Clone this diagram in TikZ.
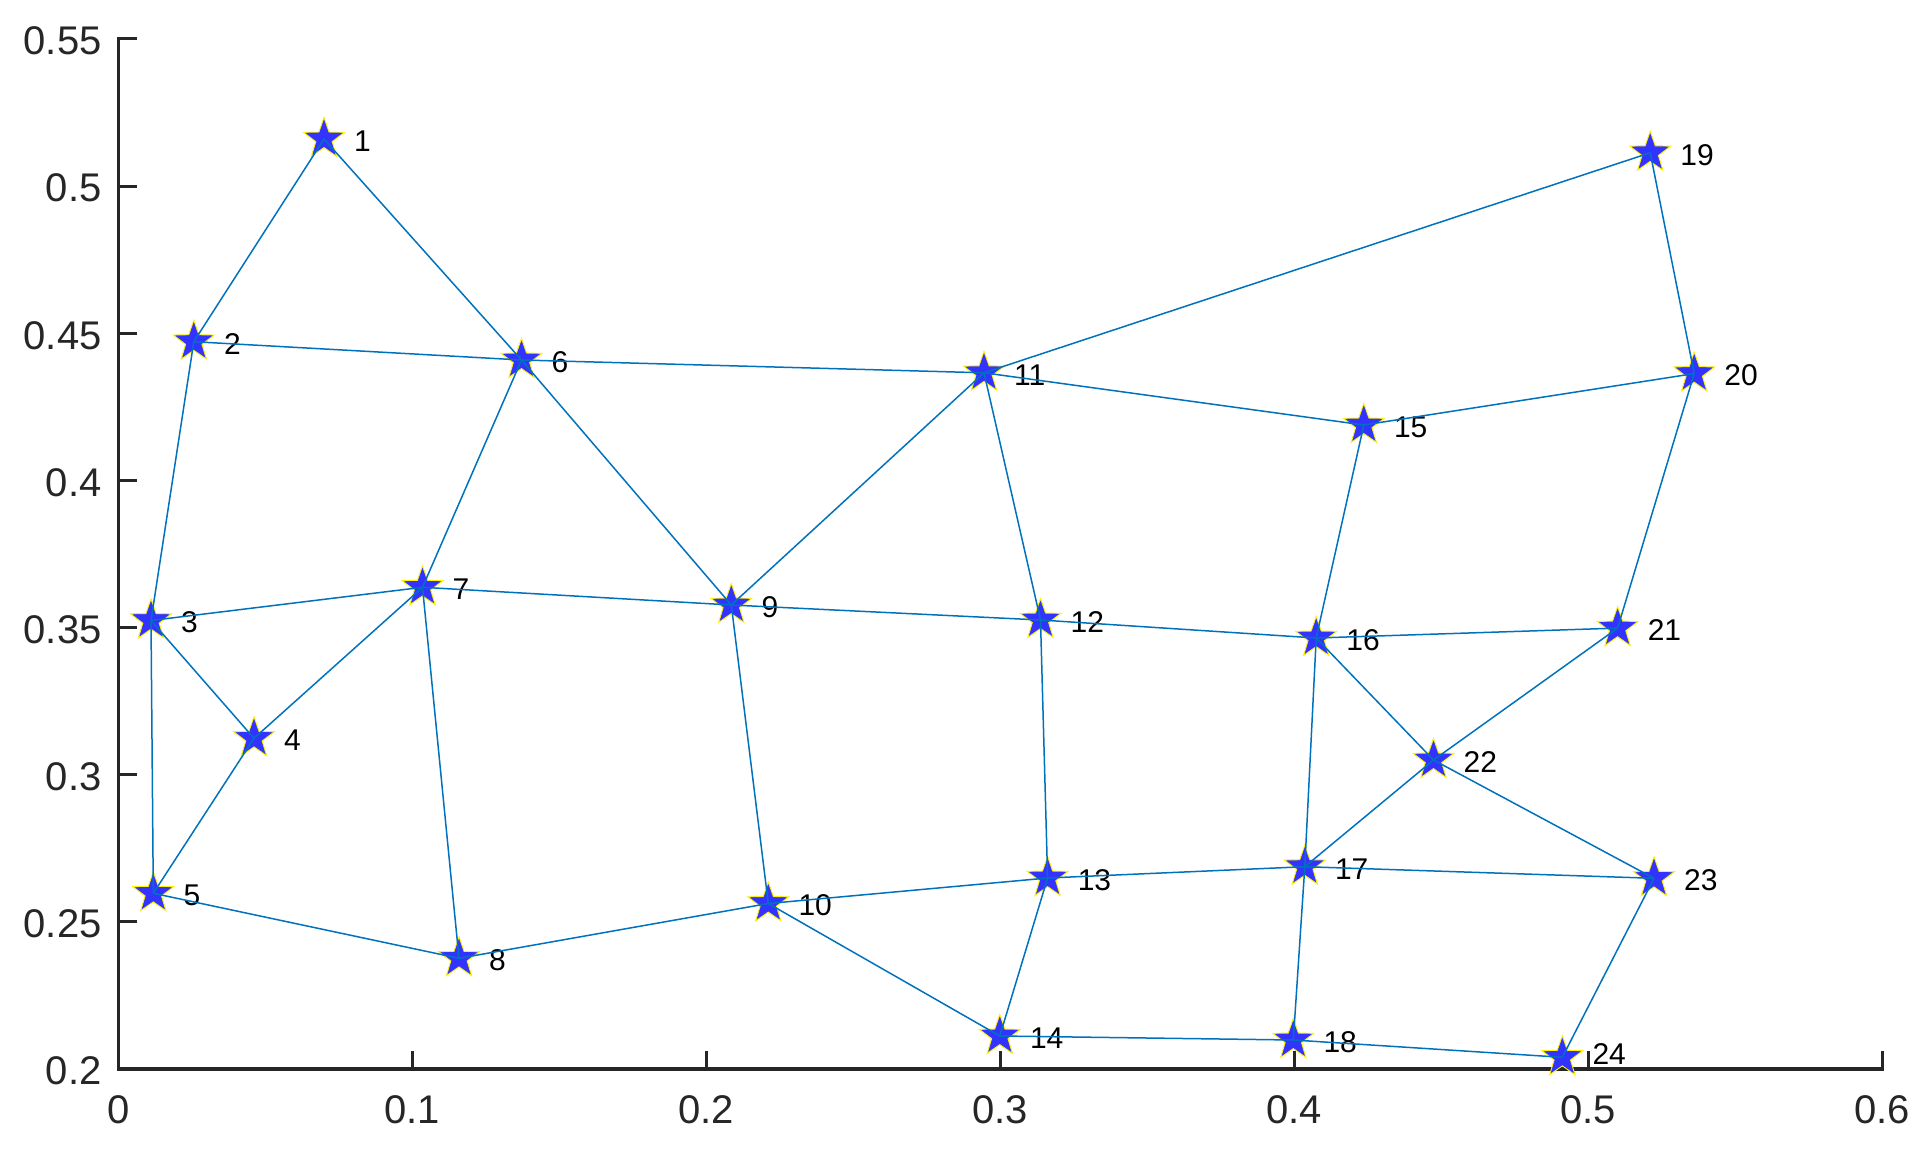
\documentclass[tikz,border=0pt]{standalone}
\usepackage{fontspec}
\setmainfont{Liberation Sans}
\usetikzlibrary{shapes.geometric,calc}
\definecolor{edgeblue}{HTML}{0072BD}
\definecolor{starblue}{HTML}{3333FF}
\definecolor{axisgray}{HTML}{262626}
\begin{document}
\begin{tikzpicture}[x=1pt,y=-1pt,
  starnode/.style={star,star points=5,star point ratio=2.5,minimum size=43pt,inner sep=0pt,fill=starblue,draw=yellow,line width=0.9pt},
  edge/.style={draw=edgeblue,line width=1.5pt},
  nlab/.style={anchor=west,inner sep=0pt,font=\fontsize{30}{34}\selectfont,text=black},
  axisline/.style={draw=axisgray,line width=3.2pt},
  tickline/.style={draw=axisgray,line width=3pt},
  ylab/.style={anchor=east,inner sep=0pt,font=\fontsize{40}{46}\selectfont,text=axisgray},
  xlab/.style={anchor=north,inner sep=0pt,font=\fontsize{40}{46}\selectfont,text=axisgray}]
\useasboundingbox (0,0) rectangle (1931,1158);
% axes
\coordinate (ytop) at (118.3,39);
\coordinate (orig) at (118.3,1069);
\coordinate (xend) at (1882.3,1069);
\draw[axisline,line cap=rect] (ytop) -- (orig) -- (xend);
% y ticks
\foreach \v/\t in {39/0.55,186.1/0.5,333.3/0.45,480.4/0.4,627.6/0.35,774.7/0.3,921.9/0.25,1069/0.2}{
  \draw[tickline] (118.3,\v) -- (136.5,\v);
  \node[ylab] (yl\t) at (101.7,\v+2) {\t};
}
% x ticks
\foreach \u/\t in {118.3/0,412.3/0.1,706.3/0.2,1000.3/0.3,1294.3/0.4,1588.3/0.5,1882.3/0.6}{
  \draw[tickline] (\u,1069) -- (\u,1050.8);
  \node[xlab] (xl\t) at (\u,1095.5) {\t};
}
% stars
\foreach \i/\x/\y/\dy in {1/324/139/2,2/193.8/341.7/2,3/151/620.5/2,4/254/738.3/2,5/153.3/893.3/2,
  6/521.5/360/2,7/422.5/587.3/2,8/459/958.3/2,9/731.3/605/2,10/768.3/903.5/2,
  11/984/372.8/2,12/1040.5/620/2,13/1047.6/878/2,14/999.8/1036/2,15/1363.8/425/2,
  16/1316.2/638/2,17/1304.8/866.7/2,18/1293.3/1040/2,19/1650.2/152.8/2,20/1694.2/373.6/2,
  21/1617.6/628.1/2,22/1433.5/760/2,23/1654/878.3/2,24/1562.3/1057.3/-3}{
  \node[starnode] (n\i) at (\x,\y) {};
  \node[nlab] (t\i) at (\x+30,\y+\dy) {\i};
}
% edges
\foreach \a/\b in {1/2,1/6,2/3,2/6,3/4,3/5,3/7,4/5,4/7,5/8,6/7,6/9,6/11,7/8,7/9,
  8/10,9/10,9/11,9/12,10/13,10/14,11/12,11/15,11/19,12/13,12/16,13/14,13/17,
  14/18,15/16,15/20,16/17,16/21,16/22,17/18,17/22,17/23,18/24,19/20,20/21,
  21/22,22/23,23/24}{
  \draw[edge] (n\a.center) -- (n\b.center);
}
\end{tikzpicture}
\end{document}
